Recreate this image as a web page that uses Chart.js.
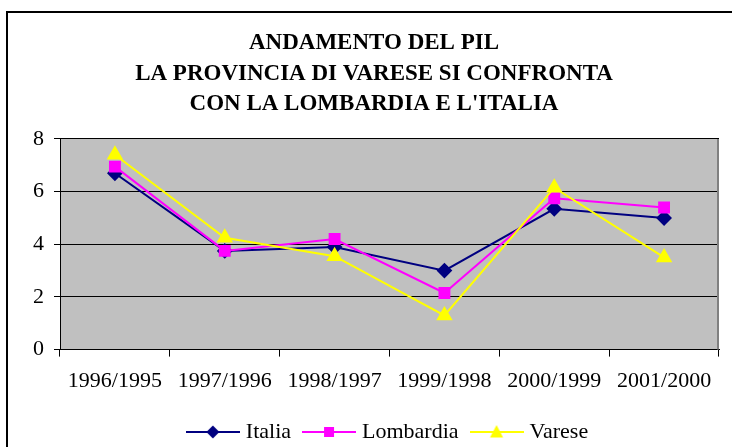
<!DOCTYPE html>
<html>
<head>
<meta charset="utf-8">
<script src="https://cdn.jsdelivr.net/npm/chart.js@4/dist/chart.umd.min.js"></script>
<style>
  html,body{margin:0;padding:0;background:#fff;overflow:hidden;}
  canvas{display:block;}
</style>
</head>
<body>
<canvas id="pil" width="748" height="453"></canvas>
<script>
const TITLE = ['ANDAMENTO DEL PIL', 'LA PROVINCIA DI VARESE SI CONFRONTA', "CON LA LOMBARDIA E L'ITALIA"];
const periods = ['1996/1995', '1997/1996', '1998/1997', '1999/1998', '2000/1999', '2001/2000'];
const italia = [6.7, 3.75, 3.9, 3.0, 5.35, 5.0];
const lombardia = [6.95, 3.75, 4.2, 2.15, 5.75, 5.4];
const varese = [7.4, 4.25, 3.55, 1.3, 6.15, 3.5];
const yTicks = [0, 2, 4, 6, 8];

const FONT = "'Liberation Serif', 'Times New Roman', serif";
Chart.defaults.font.family = FONT;
Chart.defaults.color = '#000';

// legend icon: line with marker in the middle
function legendIcon(color, shape){
  const c = document.createElement('canvas');
  c.width = 54; c.height = 16;
  const g = c.getContext('2d');
  g.strokeStyle = color; g.lineWidth = 2;
  g.beginPath(); g.moveTo(0, 8); g.lineTo(54, 8); g.stroke();
  g.fillStyle = color;
  g.beginPath();
  if (shape === 'diamond') { g.moveTo(27, 1.5); g.lineTo(33.5, 8); g.lineTo(27, 14.5); g.lineTo(20.5, 8); }
  else if (shape === 'square') { g.rect(22, 3, 10, 10); }
  else { g.moveTo(27, 1); g.lineTo(33.5, 13.5); g.lineTo(20.5, 13.5); }
  g.closePath(); g.fill();
  return c;
}
const icons = [legendIcon('#000080', 'diamond'), legendIcon('#FF00FF', 'square'), legendIcon('#FFFF00', 'triangle')];

const frame = {
  id: 'frame',
  beforeDraw(chart){
    const {ctx, chartArea: a} = chart;
    ctx.save();
    ctx.strokeStyle = '#000'; ctx.lineWidth = 2;
    ctx.strokeRect(7, 12, 1000, 1000);
    ctx.fillStyle = '#C0C0C0';
    ctx.fillRect(a.left, a.top, a.right - a.left, a.bottom - a.top);
    ctx.restore();
  },
  beforeDatasetsDraw(chart){
    const {ctx, chartArea: a} = chart;
    ctx.save();
    ctx.strokeStyle = '#808080'; ctx.lineWidth = 2;
    ctx.beginPath(); ctx.moveTo(a.right - 1, a.top); ctx.lineTo(a.right - 1, a.bottom); ctx.stroke();
    ctx.restore();
  }
};

new Chart(document.getElementById('pil'), {
  type: 'line',
  data: {
    labels: periods,
    datasets: [
      {label: 'Italia', data: italia, borderColor: '#000080', backgroundColor: '#000080', borderWidth: 2,
        pointStyle: 'rectRot', pointRadius: 6.5, order: 3},
      {label: 'Lombardia', data: lombardia, borderColor: '#FF00FF', backgroundColor: '#FF00FF', borderWidth: 2,
        pointStyle: 'rect', pointRadius: 7, order: 2},
      {label: 'Varese', data: varese, borderColor: '#FFFF00', backgroundColor: '#FFFF00', borderWidth: 2,
        pointStyle: 'triangle', pointRadius: 7.5, order: 1}
    ]
  },
  options: {
    responsive: false,
    animation: false,
    devicePixelRatio: 1,
    layout: {padding: {left: 29, right: 29, top: 0, bottom: 0}},
    elements: {line: {tension: 0}},
    scales: {
      x: {
        offset: true,
        grid: {offset: true, drawOnChartArea: false, color: '#000', tickLength: 7},
        border: {color: '#000', width: 1},
        ticks: {font: {size: 22}, padding: 11, maxRotation: 0, autoSkip: false}
      },
      y: {
        min: 0, max: 8,
        afterBuildTicks: s => { s.ticks = yTicks.map(v => ({value: v})); },
        afterFit: s => { s.width = 31; },
        grid: {color: '#000', tickLength: 6},
        border: {color: '#000', width: 1},
        ticks: {font: {size: 22}, padding: 10}
      }
    },
    plugins: {
      title: {
        display: true, text: TITLE, color: '#000',
        font: {size: 23, weight: 'bold', lineHeight: 1.326},
        padding: {top: 28, bottom: 19.5}
      },
      legend: {
        position: 'bottom',
        fullSize: false,
        labels: {
          usePointStyle: true,
          pointStyleWidth: 44,
          padding: 16,
          font: {size: 22},
          sort: (a, b) => a.datasetIndex - b.datasetIndex,
          generateLabels: chart => Chart.defaults.plugins.legend.labels.generateLabels(chart)
            .map(it => Object.assign(it, {pointStyle: icons[it.datasetIndex]}))
        }
      },
      tooltip: {enabled: false}
    }
  },
  plugins: [frame]
});
</script>
</body>
</html>
